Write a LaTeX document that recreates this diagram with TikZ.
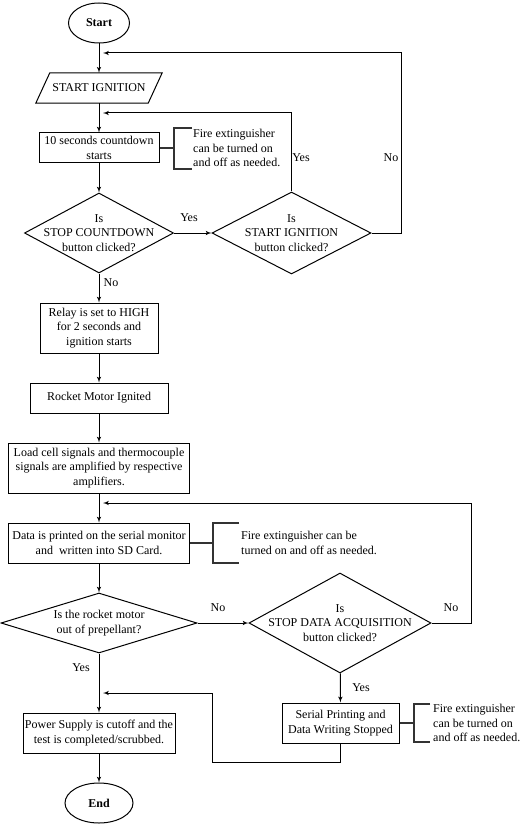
\documentclass[tikz,border=0pt]{standalone}
\usepackage{fontspec}
\setmainfont{Liberation Serif}
\usepackage{tikz}
\usetikzlibrary{shapes,arrows}
\tikzstyle{block} = [rectangle, draw, line width=1pt, inner sep=0pt, align=center]
\tikzstyle{terminal} = [ellipse, draw, line width=1pt, inner sep=0pt, font=\fontsize{12}{14.5}\selectfont\bfseries]
\tikzstyle{decision} = [diamond, draw, line width=1pt, inner sep=0pt]
\tikzstyle{dtext} = [align=center, inner sep=0pt]
\tikzstyle{note} = [anchor=west, align=left, inner sep=0pt]
\tikzstyle{lbl} = [inner sep=0pt]
\tikzstyle{line} = [draw, line width=1pt, -latex']
\tikzstyle{annot} = [draw, line width=1.6pt, black!80]

\begin{document}
\begin{tikzpicture}[x=1pt, y=-1pt, font=\fontsize{12}{14.5}\selectfont]
\useasboundingbox (0,0) rectangle (521,826);
% main column
\node [terminal, minimum width=61pt, minimum height=40pt] (start) at (99,23) {Start};
\node [inner sep=0pt, minimum width=112pt, minimum height=30pt] (ign) at (99,88) {START IGNITION};
\draw [line width=1pt] ([xshift=-7pt]ign.south west) -- ([xshift=-7pt]ign.south east) -- ([xshift=7pt]ign.north east) -- ([xshift=7pt]ign.north west) -- cycle;
\node [block, minimum width=120pt, minimum height=30pt] (cd) at (99,148) {10 seconds countdown\\starts};
\node [decision, minimum width=149pt, minimum height=80pt, label={[dtext]center:Is\\STOP COUNTDOWN\\button clicked?}] (d1) at (99,233) {};
\node [decision, minimum width=159pt, minimum height=82pt, label={[dtext]center:Is\\START IGNITION\\button clicked?}] (d2) at (291.5,233) {};
\node [block, minimum width=118pt, minimum height=50pt] (relay) at (99,328) {Relay is set to HIGH\\for 2 seconds and\\ignition starts};
\node [block, minimum width=138pt, minimum height=30pt] (motor) at (99,398) {Rocket Motor Ignited};
\node [block, minimum width=181pt, minimum height=50pt] (amp) at (99,468) {Load cell signals and thermocouple\\signals are amplified by respective\\amplifiers.};
\node [block, minimum width=181pt, minimum height=40pt] (data) at (99,543) {Data is printed on the serial monitor\\and~~written into SD Card.};
\node [decision, minimum width=196pt, minimum height=60pt, label={[dtext]center:Is the rocket motor\\out of prepellant?}] (d3) at (99,623) {};
\node [decision, minimum width=182pt, minimum height=100pt, label={[dtext]center:Is\\STOP DATA ACQUISITION\\button clicked?}] (d4) at (340,623) {};
\node [block, minimum width=117pt, minimum height=40pt] (serial) at (340.5,723) {Serial Printing and\\Data Writing Stopped};
\node [block, minimum width=152pt, minimum height=40pt] (power) at (99,733) {Power Supply is cutoff and the\\test is completed/scrubbed.};
\node [terminal, minimum width=68pt, minimum height=40pt] (endn) at (99,803) {End};
% notes
\node [note] (note1) at (193,148) {Fire extinguisher\\can be turned on\\and off as needed.};
\node [note] (note2) at (241,543) {Fire extinguisher can be\\turned on and off as needed.};
\node [note] (note3) at (433,723) {Fire extinguisher\\can be turned on\\and off as needed.};
\coordinate (b1) at (174,148);
\coordinate (b2) at (213,543);
\coordinate (b3) at (414,723);
\path [annot] (cd.east) -- (b1);
\path [annot] (192,128) -| (b1) |- (192,169);
\path [annot] (data.east) -- (b2);
\path [annot] (239,523) -| (b2) |- (239,563);
\path [annot] (serial.east) -- (b3);
\path [annot] (430,704) -| (b3) |- (430,742);
% labels
\node [lbl] (yes1) at (189,218) {Yes};
\node [lbl] (yes2) at (301,158) {Yes};
\node [lbl] (no2) at (391,158) {No};
\node [lbl] (no1) at (111,283) {No};
\node [lbl] (no3) at (218,608) {No};
\node [lbl] (no4) at (451,608) {No};
\node [lbl] (yes4) at (361,688) {Yes};
\node [lbl] (yes3) at (81,668) {Yes};
% flow
\path [line] (start) -- (ign);
\path [line] (ign) -- (cd);
\path [line] (cd) -- (d1);
\path [line] (d1) -- (d2);
\path [line] (d1) -- (relay);
\path [line] (relay) -- (motor);
\path [line] (motor) -- (amp);
\path [line] (amp) -- (data);
\path [line] (data) -- (d3);
\path [line] (d3) -- (d4);
\path [line] (d3) -- (power);
\path [line] (d4) -- (serial);
\path [line] (power) -- (endn);
% loops back
\coordinate (r1) at (103,113);
\coordinate (c2) at (401,53);
\coordinate (r2) at (103,53);
\coordinate (c4) at (471,503);
\coordinate (r4) at (103,503);
\coordinate (c5) at (212,762);
\coordinate (r5) at (103,693);
\path [line] (d2.north) |- (r1);
\path [line] (d2.east) -| (c2) -- (r2);
\path [line] (d4.east) -| (c4) -- (r4);
\path [line] (serial.south) |- (c5) |- (r5);
\end{tikzpicture}
\end{document}
